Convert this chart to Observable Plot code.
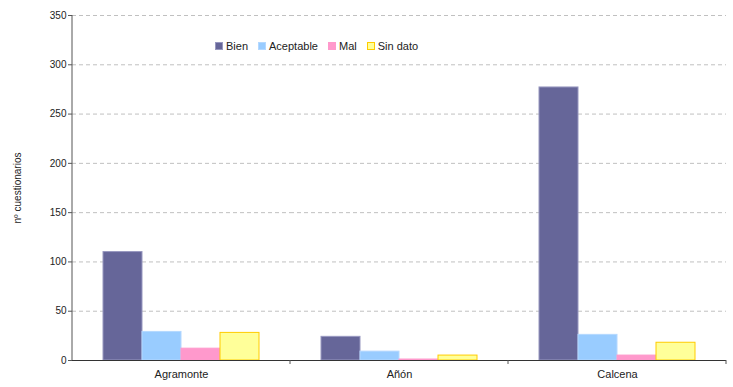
<!DOCTYPE html>
<html><head><meta charset="utf-8">
<script src="https://cdn.jsdelivr.net/npm/d3@7"></script>
<script src="https://cdn.jsdelivr.net/npm/@observablehq/plot@0.6"></script>
<style>
body{margin:0;background:#fff;font-family:"Liberation Sans",Arial,sans-serif;}
#wrap{position:relative;width:733px;height:387px;}
#legend{position:absolute;left:215px;top:40px;display:flex;align-items:center;font-size:11px;color:#222;line-height:12px;}
#legend .item{display:flex;align-items:center;margin-right:10px;}
#legend .sw{width:6px;height:6px;border:1px solid;margin-right:3px;}
</style></head><body>
<div id="wrap"><div id="chart"></div><div id="legend"></div></div>
<script>
const categories = ["Agramonte", "Añón", "Calcena"];
const seriesNames = ["Bien", "Aceptable", "Mal", "Sin dato"];
const bien = [110, 24, 277];
const aceptable = [29, 9, 26];
const mal = [12, 1, 5];
const sinDato = [28, 5, 18];
const yTicks = [0, 50, 100, 150, 200, 250, 300, 350];
const fills = ["#666699", "#99ccff", "#ff99cc", "#ffff99"];
const strokes = ["#9898c0", "#b4d8ff", "#ff99cc", "#ffcc00"];

const seriesValues = [bien, aceptable, mal, sinDato];
const data = [];
categories.forEach((c, i) => {
  seriesNames.forEach((s, j) => data.push({category: c, series: s, value: seriesValues[j][i]}));
});

const plot = Plot.plot({
  width: 733, height: 387,
  marginLeft: 71, marginRight: 6, marginTop: 15, marginBottom: 27,
  style: {fontFamily: "Liberation Sans, Arial, sans-serif", fontSize: "11px", color: "#222", background: "#fff"},
  fx: {domain: categories, padding: 0, label: null},
  x: {domain: seriesNames, paddingInner: 0, paddingOuter: 0.74, axis: null},
  y: {domain: [0, 350]},
  color: {type: "identity"},
  marks: [
    Plot.gridY(yTicks.slice(1), {stroke: "#c0c0c0", strokeOpacity: 1, strokeDasharray: "4,3"}),
    Plot.barY(data, {
      fx: "category", x: "series", y: "value",
      fill: d => fills[seriesNames.indexOf(d.series)],
      stroke: d => strokes[seriesNames.indexOf(d.series)],
      strokeWidth: 1
    }),
    Plot.ruleY([0], {stroke: "#333"}),
    Plot.axisY(yTicks, {tickSize: 4, tickPadding: 2, stroke: "#555", label: "nº cuestionarios", labelAnchor: "center", labelArrow: "none", labelOffset: 59, fontSize: 10}),
    Plot.axisFx({anchor: "bottom", tickSize: 0, tickPadding: 10, label: null, fontSize: 11})
  ]
});
document.getElementById("chart").appendChild(plot);

const svg = d3.select(plot);

// axis lines from the scales
const ys = plot.scale("y"), fxs = plot.scale("fx");
const y0 = ys.apply(0), yMax = ys.apply(350);
const x0 = fxs.apply(categories[0]);
svg.append("line").attr("x1", x0).attr("x2", x0).attr("y1", y0).attr("y2", yMax).attr("stroke", "#555");
categories.forEach(c => {
  const xb = fxs.apply(c) + fxs.bandwidth;
  svg.append("line").attr("x1", xb).attr("x2", xb).attr("y1", y0).attr("y2", y0 + 4).attr("stroke", "#555");
});

const leg = document.getElementById("legend");
seriesNames.forEach((s, j) => {
  const it = document.createElement("div"); it.className = "item";
  const sw = document.createElement("div"); sw.className = "sw";
  sw.style.background = fills[j]; sw.style.borderColor = strokes[j];
  const t = document.createElement("span"); t.textContent = s;
  it.appendChild(sw); it.appendChild(t); leg.appendChild(it);
});
</script></body></html>
